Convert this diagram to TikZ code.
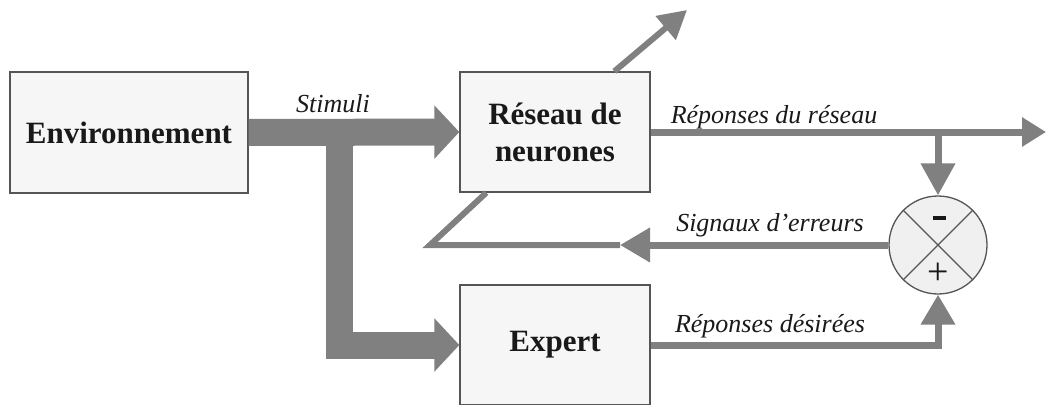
\documentclass[tikz,border=0pt]{standalone}
\usepackage{fontspec}
\setmainfont{Liberation Serif}
\usetikzlibrary{arrows.meta,calc}
\definecolor{bar}{RGB}{128,128,128}
\definecolor{boxline}{RGB}{85,85,85}
\definecolor{boxfill}{RGB}{246,246,246}
\definecolor{circfill}{RGB}{240,240,240}
\definecolor{txt}{RGB}{25,25,25}
\begin{document}
\begin{tikzpicture}[x=1pt,y=-1pt,
  block/.style={draw=boxline, fill=boxfill, line width=1.3pt, minimum width=190pt,
    minimum height=120pt, inner sep=0pt, text=txt, align=center,
    font=\fontsize{31}{37}\selectfont\bfseries},
  lbl/.style={font=\fontsize{26}{28}\selectfont\itshape, text=txt, anchor=base, inner sep=0pt},
  thickbar/.style={draw=bar, line width=27pt, line join=miter},
  sig/.style={draw=bar, line width=7pt, line join=miter},
  bigtip/.style={-{Triangle[length=25pt,width=52pt]}},
  smalltip/.style={-{Triangle[length=30pt,width=33pt]}}]
\useasboundingbox (0,0) rectangle (1048,404);
\clip (0,0) rectangle (1048,404);
% boxes
\node[block, minimum width=238pt, minimum height=121pt] (env) at (129,132.5) {Environnement};
\node[block] (res) at (555,132) {Réseau de\\neurones};
\node[block] (exp) at (555,345) {Expert};
\node[circle, draw=boxline, fill=circfill, minimum size=98pt, line width=1.3pt, inner sep=0pt] (sum) at (938,245) {};
\draw[boxline, line width=1.3pt] (sum.north west) -- (sum.south east) (sum.north east) -- (sum.south west);
\node[inner sep=0pt, text=txt] (minus) at (939,218) {\rule{13pt}{4.5pt}};
\node[inner sep=0pt, text=txt, font=\fontsize{38}{38}\selectfont] (plus) at (938,274) {+};
% stimuli
\coordinate (j) at (339.5,132);
\draw[thickbar, bigtip] (env.east) -- (res.west);
\draw[thickbar, bigtip] (j) |- (exp.west);
% outputs
\coordinate (outR) at (1046,132);
\coordinate (tap) at (938,132);
\draw[sig, -{Triangle[length=24pt,width=28pt]}] (res.east) -- (outR);
\draw[sig, -{Triangle[length=32pt,width=33pt]}] (tap) -- (sum.north);
\draw[sig, smalltip] (exp.east) -| (sum.south);
% feedback
\coordinate (fbtip) at (620,245);
\coordinate (fbl) at (430,245);
\coordinate (fbd) at ($(res.south west)+(27,0)$);
\draw[sig, smalltip] (sum.west) -- (fbtip);
\draw[sig, line width=6pt] (fbtip) -- (fbl) -- (fbd);
% diagonal output
\coordinate (resTop) at ($(res.north west)+(155,0)$);
\coordinate (outD) at (687,10);
\draw[sig, line width=6pt, -{Triangle[length=28pt,width=30pt]}] (resTop) -- (outD);
% labels
\node[lbl] (lstim) at (333,112) {Stimuli};
\node[lbl] (lrep) at (774,123) {Réponses du réseau};
\node[lbl] (lsig) at (770,231) {Signaux d'erreurs};
\node[lbl] (ldes) at (770,332) {Réponses désirées};
\end{tikzpicture}
\end{document}
